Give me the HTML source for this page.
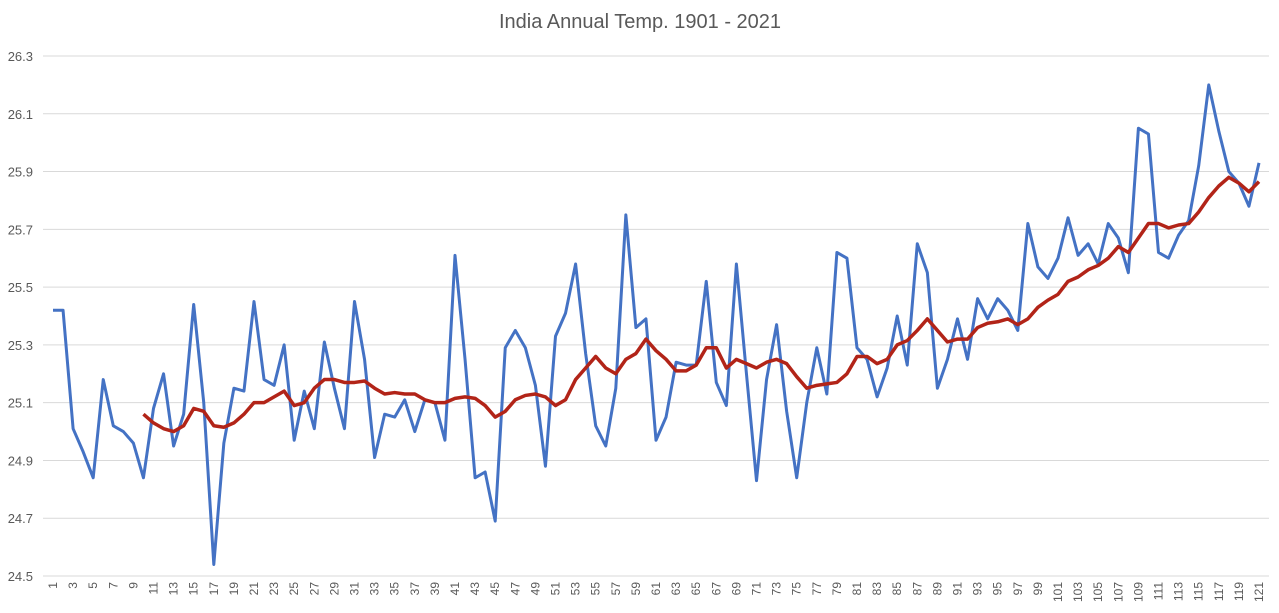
<!DOCTYPE html>
<html><head><meta charset="utf-8"><style>
html,body{margin:0;padding:0;background:#fff;}
svg{display:block;font-family:"Liberation Sans",sans-serif;}
</style></head><body>
<svg id="chart" width="1279" height="613" viewBox="0 0 1279 613">
<text x="640" y="28" text-anchor="middle" font-size="20" fill="#595959">India Annual Temp. 1901 - 2021</text>
<g id="grid"></g>
<g id="yticks"></g>
<g id="xticks"></g>
<g id="series"></g>
</svg>
<script>
const yTicks = [24.5,24.7,24.9,25.1,25.3,25.5,25.7,25.9,26.1,26.3];
const annualTemp = [25.42,25.42,25.01,24.93,24.84,25.18,25.02,25.00,24.96,24.84,25.08,25.20,24.95,25.06,25.44,25.10,24.54,24.96,25.15,25.14,25.45,25.18,25.16,25.30,24.97,25.14,25.01,25.31,25.15,25.01,25.45,25.25,24.91,25.06,25.05,25.11,25.00,25.11,25.10,24.97,25.61,25.25,24.84,24.86,24.69,25.29,25.35,25.29,25.16,24.88,25.33,25.41,25.58,25.27,25.02,24.95,25.15,25.75,25.36,25.39,24.97,25.05,25.24,25.23,25.23,25.52,25.17,25.09,25.58,25.20,24.83,25.18,25.37,25.07,24.84,25.10,25.29,25.13,25.62,25.60,25.29,25.25,25.12,25.22,25.40,25.23,25.65,25.55,25.15,25.25,25.39,25.25,25.46,25.39,25.46,25.42,25.35,25.72,25.57,25.53,25.60,25.74,25.61,25.65,25.58,25.72,25.67,25.55,26.05,26.03,25.62,25.60,25.68,25.73,25.92,26.20,26.04,25.90,25.86,25.78,25.93];
const movingAvgStart = 10;
const movingAvg = [25.06,25.03,25.01,25.00,25.02,25.08,25.07,25.02,25.015,25.03,25.06,25.10,25.10,25.12,25.14,25.09,25.10,25.15,25.18,25.18,25.17,25.17,25.175,25.15,25.13,25.135,25.13,25.13,25.11,25.10,25.10,25.115,25.12,25.115,25.09,25.05,25.07,25.11,25.125,25.13,25.12,25.09,25.11,25.18,25.22,25.26,25.22,25.20,25.25,25.27,25.32,25.28,25.25,25.21,25.21,25.23,25.29,25.29,25.22,25.25,25.235,25.22,25.24,25.25,25.235,25.19,25.15,25.16,25.165,25.17,25.20,25.26,25.26,25.235,25.25,25.30,25.315,25.35,25.39,25.35,25.31,25.32,25.32,25.36,25.375,25.38,25.39,25.37,25.39,25.43,25.455,25.475,25.52,25.535,25.56,25.575,25.60,25.64,25.62,25.67,25.72,25.72,25.705,25.715,25.72,25.76,25.81,25.85,25.88,25.86,25.83,25.865];

const NS="http://www.w3.org/2000/svg";
const firstX=53, lastX=1259, gridL=43, gridR=1269, yMin=24.5, yMax=26.3, yTop=56, yBot=576;
const n=annualTemp.length;
const step=(lastX-firstX)/(n-1);
const xs=i=>firstX+step*i;
const ys=v=>yBot-(v-yMin)/(yMax-yMin)*(yBot-yTop);
const g=document.getElementById('grid'), yt=document.getElementById('yticks'), xt=document.getElementById('xticks'), sg=document.getElementById('series');
function mk(t){return document.createElementNS(NS,t);}
yTicks.forEach(v=>{
  const l=mk('line');
  
  
  l.setAttribute('x1',gridL);l.setAttribute('x2',gridR);l.setAttribute('y1',ys(v));l.setAttribute('y2',ys(v));
  l.setAttribute('stroke','#d9d9d9');l.setAttribute('stroke-width','1');
  g.appendChild(l);
  const t=mk('text');
  
  
  t.setAttribute('x',33);t.setAttribute('y',ys(v)+5);t.setAttribute('text-anchor','end');
  t.setAttribute('font-size','13');t.setAttribute('fill','#595959');
  t.textContent=v.toFixed(1);
  yt.appendChild(t);
});
for(let i=0;i<n;i+=2){
  const t=mk('text');
  
  
  const x=xs(i)+4, y=582;
  t.setAttribute('transform','translate('+x+','+y+') rotate(-90)');
  t.setAttribute('text-anchor','end');
  t.setAttribute('font-size','12');t.setAttribute('fill','#595959');
  t.textContent=String(i+1);
  xt.appendChild(t);
}
const p1=mk('polyline');


p1.setAttribute('points',annualTemp.map((v,i)=>xs(i)+','+ys(v)).join(' '));
p1.setAttribute('fill','none');p1.setAttribute('stroke','#4472c4');p1.setAttribute('stroke-width','3');p1.setAttribute('stroke-linejoin','round');
sg.appendChild(p1);
const p2=mk('polyline');


p2.setAttribute('points',movingAvg.map((v,i)=>xs(i+movingAvgStart-1)+','+ys(v)).join(' '));
p2.setAttribute('fill','none');p2.setAttribute('stroke','#b22418');p2.setAttribute('stroke-width','3.5');p2.setAttribute('stroke-linejoin','round');
sg.appendChild(p2);
</script>
</body></html>
